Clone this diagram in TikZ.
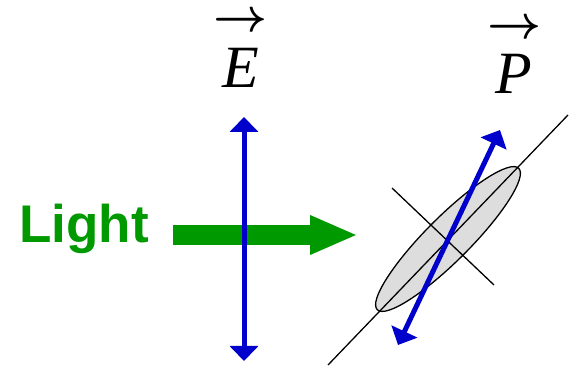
\documentclass[tikz,border=0pt]{standalone}
\usepackage{fontspec}
\setmainfont{Liberation Serif}
\setsansfont{Liberation Sans}
\usepackage{bm}
\usepackage{xcolor}
\usepackage{graphicx}
\usetikzlibrary{arrows.meta,shapes.geometric}

\definecolor{lightgreen}{RGB}{0,153,0}
\definecolor{fieldblue}{RGB}{0,0,204}
\definecolor{dipolegray}{RGB}{221,221,221}

\begin{document}
\begin{tikzpicture}[x=1pt,y=1pt,>=Stealth,
  vec/.style={font=\fontsize{60}{60}\selectfont\itshape,inner sep=0pt,anchor=base},
  vecarr/.style={inner sep=0pt},
  field/.style={draw=fieldblue,line width=5pt,
    {Triangle[length=15pt,width=28pt]}-{Triangle[length=15pt,width=28pt]}},
  axis/.style={draw=black,line width=1.3pt},
  beam/.style={draw=lightgreen,line width=20pt,-{Triangle[length=48pt,width=36pt]}}]
  \useasboundingbox (0,0) rectangle (569,366);
  % ---- incoming light ----
  \node[font=\fontsize{53}{53}\selectfont\sffamily\bfseries,text=lightgreen,
    inner sep=0pt,anchor=base west] (light) at (19,123) {Light};
  \coordinate (beamL) at (173,131);
  \coordinate (beamR) at (358,131);
  \draw[beam] (beamL) -- (beamR);
  % ---- field E ----
  \node[vec] (E) at (241,278) {E};
  \node[vecarr] (Earr) at (241,344) {\scalebox{4.7}{$\bm{\rightarrow}$}};
  \coordinate (Etop) at (244,249);
  \coordinate (Ebot) at (244,5);
  \draw[field] (Ebot) -- (Etop);
  % ---- induced dipole P ----
  \node[vec] (P) at (514,272) {P};
  \node[vecarr] (Parr) at (515,337) {\scalebox{4.7}{$\bm{\rightarrow}$}};
  \node[ellipse,draw,line width=1.3pt,fill=dipolegray,rotate=45,
    minimum width=200pt,minimum height=44pt,inner sep=0pt] (mol) at (448,127) {};
  \coordinate (axA) at (328,1);
  \coordinate (axB) at (568,251);
  \coordinate (crA) at (392,178);
  \coordinate (crB) at (494,81);
  \draw[axis] (axA) -- (axB);
  \draw[axis] (crA) -- (crB);
  \coordinate (Pbot) at (398,21);
  \coordinate (Ptop) at (500,236);
  \draw[field] (Pbot) -- (Ptop);
\end{tikzpicture}
\end{document}
